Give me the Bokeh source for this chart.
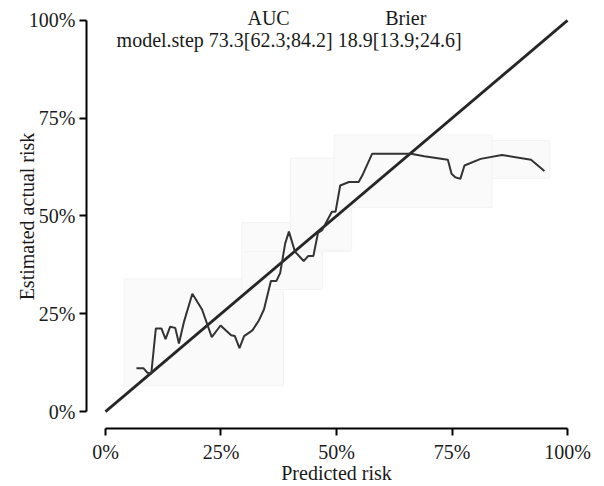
from bokeh.plotting import figure
from bokeh.models import Range1d, FixedTicker
from bokeh.core.properties import value
from bokeh.embed import file_html
from bokeh.resources import INLINE

# ---- data ----
pred_risk = [0.067, 0.082, 0.090, 0.099, 0.109, 0.121, 0.130, 0.140, 0.151, 0.159,
             0.170, 0.188, 0.209, 0.230, 0.249, 0.272, 0.280, 0.290, 0.300, 0.318,
             0.332, 0.343, 0.358, 0.370, 0.378, 0.389, 0.397, 0.410, 0.429, 0.439,
             0.450, 0.460, 0.469, 0.490, 0.498, 0.508, 0.527, 0.548, 0.556, 0.577,
             0.661, 0.690, 0.741, 0.749, 0.757, 0.768, 0.777, 0.812, 0.858, 0.921,
             0.950]
actual_risk = [0.111, 0.111, 0.100, 0.096, 0.2125, 0.2125, 0.185, 0.217, 0.214, 0.174,
               0.230, 0.301, 0.261, 0.1905, 0.220, 0.195, 0.193, 0.162, 0.193, 0.2075,
               0.233, 0.261, 0.334, 0.334, 0.354, 0.430, 0.460, 0.409, 0.385, 0.398,
               0.398, 0.457, 0.464, 0.511, 0.511, 0.578, 0.587, 0.587, 0.604, 0.659,
               0.659, 0.653, 0.644, 0.608, 0.599, 0.595, 0.629, 0.646, 0.656, 0.644,
               0.615]
diag_x = [0.0, 1.0]
diag_y = [0.0, 1.0]

# faint confidence boxes (data units)
box_left = [0.040, 0.295, 0.295, 0.400, 0.495, 0.837]
box_right = [0.385, 0.470, 0.530, 0.533, 0.837, 0.962]
box_bottom = [0.066, 0.312, 0.409, 0.413, 0.522, 0.596]
box_top = [0.339, 0.409, 0.483, 0.648, 0.707, 0.693]

tick_values = [0.0, 0.25, 0.5, 0.75, 1.0]
tick_labels = ["0%", "25%", "50%", "75%", "100%"]

header_labels = ["AUC", "Brier"]
header_x = [0.353, 0.650]
header_y = [1.005, 1.005]
row_label = ["model.step 73.3[62.3;84.2] 18.9[13.9;24.6]"]
row_x = [0.024]
row_y = [0.949]

FONT = "Liberation Serif"
FS = "20px"
INK = "#1a1a1a"

p = figure(width=604, height=486, output_backend="svg", toolbar_location=None,
           x_range=Range1d(-0.0411, 1.0411), y_range=Range1d(-0.0433, 1.0407),
           min_border_left=86, min_border_right=18, min_border_top=4, min_border_bottom=56)
p.outline_line_color = None
p.grid.visible = False
p.background_fill_color = "white"
p.border_fill_color = "white"

# boxes
p.quad(left=box_left, right=box_right, bottom=box_bottom, top=box_top,
       fill_color="#fafafa", fill_alpha=1.0, line_color="#f3f3f3", line_width=1)

# diagonal
p.line(diag_x, diag_y, line_color="#262626", line_width=2.8)
# calibration curve
p.line(pred_risk, actual_risk, line_color="#333333", line_width=2)

# header text
p.text(x=header_x, y=header_y, text=header_labels, text_align="center", text_baseline="middle",
       text_font=value(FONT), text_font_size=FS, text_color=INK)
p.text(x=row_x, y=row_y, text=row_label, text_align="left", text_baseline="middle",
       text_font=value(FONT), text_font_size=FS, text_color=INK)

for ax in (p.xaxis[0], p.yaxis[0]):
    ax.ticker = FixedTicker(ticks=tick_values)
    ax.major_label_overrides = {v: l for v, l in zip(tick_values, tick_labels)}
    ax.bounds = (0, 1)
    ax.axis_line_width = 2
    ax.axis_line_color = "black"
    ax.major_tick_line_width = 2
    ax.major_tick_line_color = "black"
    ax.major_tick_out = 7
    ax.major_tick_in = 0
    ax.minor_tick_line_color = None
    ax.major_label_text_font = FONT
    ax.major_label_text_font_size = FS
    ax.major_label_text_color = INK
    ax.axis_label_text_font = FONT
    ax.axis_label_text_font_size = FS
    ax.axis_label_text_font_style = "normal"
    ax.axis_label_text_color = INK

p.xaxis[0].axis_label = "Predicted risk"
p.xaxis[0].major_label_standoff = 5
p.xaxis[0].axis_label_standoff = -4
p.yaxis[0].axis_label = "Estimated actual risk"
p.yaxis[0].major_label_standoff = 4
p.yaxis[0].axis_label_standoff = -12

open("out.html", "w").write(file_html(p, INLINE))
